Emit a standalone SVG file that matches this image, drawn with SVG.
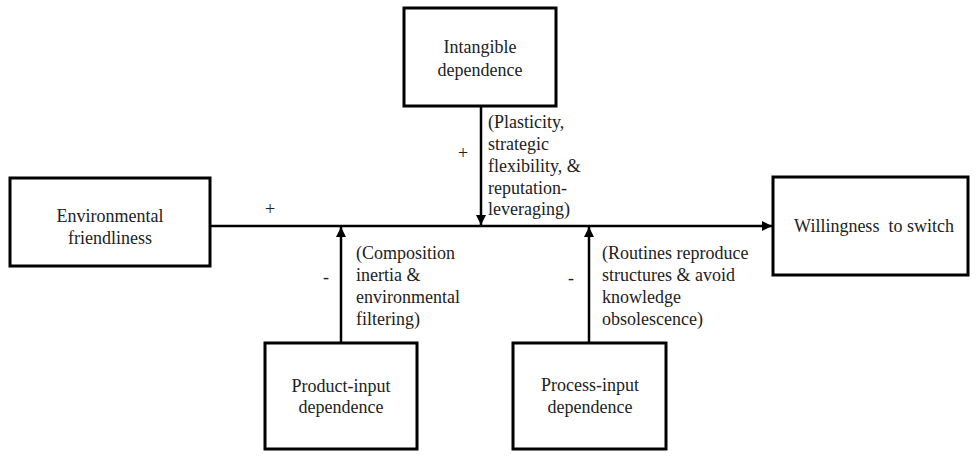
<svg xmlns="http://www.w3.org/2000/svg" width="976" height="461" viewBox="0 0 976 461">
<defs>
<marker id="ah" viewBox="0 0 10 10" refX="10" refY="5" markerWidth="10" markerHeight="10" markerUnits="userSpaceOnUse" orient="auto">
<path d="M0,0 L10,5 L0,10 Z" fill="#000"/>
</marker>
</defs>
<style>
.box{fill:#fff;stroke:#000;stroke-width:3}
text{font-family:'Liberation Serif','DejaVu Serif',serif;font-size:18px;fill:#222}
.c{text-anchor:middle}
.ln{stroke:#000;stroke-width:2.5;fill:none}
</style>
<rect width="976" height="461" fill="#fff"/>
<g id="connectors" font-family="Liberation Serif, serif">
<line class="ln" x1="210" y1="226" x2="772" y2="226" marker-end="url(#ah)"/>
<line class="ln" x1="481" y1="106" x2="481" y2="225" marker-end="url(#ah)"/>
<line class="ln" x1="341" y1="343" x2="341" y2="227" marker-end="url(#ah)"/>
<line class="ln" x1="589" y1="343" x2="589" y2="227" marker-end="url(#ah)"/>
<text class="c" x="270" y="215">+</text>
<text class="c" x="463" y="159">+</text>
<text class="c" x="326" y="283">-</text>
<text class="c" x="571" y="284">-</text>
<text x="488" y="128">(Plasticity,</text>
<text x="488" y="150">strategic</text>
<text x="488" y="172">flexibility, &amp;</text>
<text x="488" y="194">reputation-</text>
<text x="488" y="215">leveraging)</text>
<text x="356" y="259">(Composition</text>
<text x="356" y="281">inertia &amp;</text>
<text x="356" y="303">environmental</text>
<text x="356" y="325">filtering)</text>
<text x="602" y="259">(Routines reproduce</text>
<text x="602" y="281">structures &amp; avoid</text>
<text x="602" y="303">knowledge</text>
<text x="602" y="325">obsolescence)</text>
</g>
<g id="env">
<rect class="box" x="10" y="178" width="200" height="88"/>
<text class="c" x="110" y="222">Environmental</text>
<text class="c" x="110" y="244">friendliness</text>
</g>
<g id="intangible">
<rect class="box" x="404" y="8" width="152" height="98"/>
<text class="c" x="480" y="53">Intangible</text>
<text class="c" x="480" y="76">dependence</text>
</g>
<g id="product">
<rect class="box" x="265" y="343" width="152" height="106"/>
<text class="c" x="341" y="392">Product-input</text>
<text class="c" x="341" y="413">dependence</text>
</g>
<g id="process">
<rect class="box" x="513" y="343" width="153" height="106"/>
<text class="c" x="590" y="391">Process-input</text>
<text class="c" x="590" y="413">dependence</text>
</g>
<g id="willingness">
<rect class="box" x="773" y="177" width="195" height="98"/>
<text class="c" x="874" y="232" xml:space="preserve">Willingness  to switch</text>
</g>
</svg>
